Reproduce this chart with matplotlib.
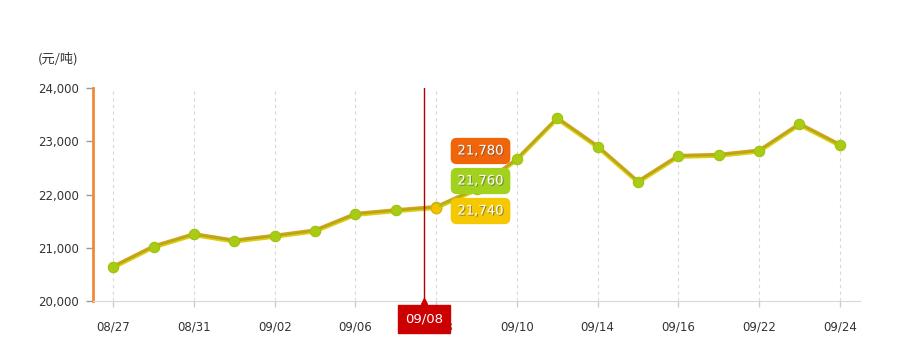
import matplotlib.pyplot as plt
import matplotlib.patheffects as pe
import numpy as np

plt.rcParams['font.family'] = ['DejaVu Sans', 'Noto Sans CJK SC']

# data (元/吨), one point per trading day shown
tick_labels = ['08/27', '', '08/31', '', '09/02', '', '09/06', '', '09/08', '',
               '09/10', '', '09/14', '', '09/16', '', '09/22', '', '09/24']
price_orange = [20660, 21040, 21270, 21150, 21240, 21340, 21650, 21720, 21780, 22120,
                22680, 23450, 22920, 22260, 22740, 22760, 22840, 23340, 22950]
price_green = [20640, 21020, 21250, 21130, 21220, 21320, 21630, 21700, 21760, 22100,
               22660, 23430, 22900, 22240, 22720, 22740, 22820, 23320, 22930]
price_yellow = [20620, 21000, 21230, 21110, 21200, 21300, 21610, 21680, 21740, 22080,
                22640, 23410, 22880, 22220, 22700, 22720, 22800, 23300, 22910]
hover_idx = 8

x = np.arange(len(tick_labels))

fig = plt.figure(figsize=(9, 3.58), dpi=100)
ax = fig.add_axes([0.1033, 0.1592, 0.8523, 0.595])

ax.plot(x, price_orange, color='#d9a020', lw=1.8, zorder=3)
ax.plot(x, price_yellow, color='#e0cc10', lw=2.4, zorder=3)
ax.plot(x, price_green, color='#b0a818', lw=1.4, zorder=4,
        marker='o', ms=7.5, mfc='#a8cc14', mec='#a0c010', mew=0.8)
ax.plot(x[hover_idx], price_yellow[hover_idx], 'o', ms=7.5,
        mfc='#f2c400', mec='#e0b000', zorder=5)

ax.set_xlim(-0.5, len(x) - 0.5)
ax.set_ylim(20000, 24000)
ax.set_yticks([20000, 21000, 22000, 23000, 24000])
ax.set_yticklabels(['20,000', '21,000', '22,000', '23,000', '24,000'])

shown = [i for i, t in enumerate(tick_labels) if t]
ax.set_xticks(shown)
ax.set_xticklabels([tick_labels[i] for i in shown])
ax.grid(axis='x', color='#d8d8d8', ls=(0, (3, 3)), lw=0.8)

for s in ['top', 'right']:
    ax.spines[s].set_visible(False)
ax.spines['left'].set_color('#f08a3c')
ax.spines['left'].set_linewidth(2)
ax.spines['bottom'].set_color('#d8d8d8')
ax.tick_params(axis='y', length=5, width=1, color='#999999', pad=5,
               labelsize=8.5, labelcolor='#333333')
ax.tick_params(axis='x', length=4, width=1, color='#cccccc', pad=10,
               labelsize=8.5, labelcolor='#333333')

fig.text(0.042, 0.826, '(元/吨)', fontsize=9.5, color='#333333',
         family=['Noto Sans CJK SC', 'DejaVu Sans'])

# hover crosshair and date label (the gray 09/08 tick peeks out behind it)
cross_x = 7.7
ax.axvline(cross_x, color='#b00000', lw=1, zorder=6)
ax.annotate(tick_labels[hover_idx], xy=(cross_x, 0), xycoords=ax.get_xaxis_transform(),
            xytext=(cross_x, -0.085), textcoords=ax.get_xaxis_transform(),
            ha='center', va='center', color='white', fontsize=9.5,
            bbox=dict(boxstyle='square,pad=0.55', fc='#cc0000', ec='#cc0000'),
            annotation_clip=False, zorder=10)
ax.plot([cross_x], [0.0], marker='^', ms=5, color='#cc0000',
        transform=ax.get_xaxis_transform(), clip_on=False, zorder=10)

# tooltips
tips = [(price_orange, '#f0640a', 22817),
        (price_green, '#a2d21e', 22253),
        (price_yellow, '#f5c800', 21690)]
tip_x = 9.1
shadow = [pe.withSimplePatchShadow(offset=(0.8, -0.8), shadow_rgbFace='#555555', alpha=0.6)]
for series, col, ty in tips:
    ax.text(tip_x, ty, f'{series[hover_idx]:,}', ha='center', va='center',
            color='white', fontsize=9.5, zorder=9, path_effects=shadow,
            bbox=dict(boxstyle='round,pad=0.45,rounding_size=0.4', fc=col, ec=col))
ax.annotate('', xy=(x[hover_idx], price_green[hover_idx]), xytext=(8.55, 21940),
            arrowprops=dict(arrowstyle='-', color='#a2c020', lw=1), zorder=8)

fig.savefig('out.png', dpi=100)
